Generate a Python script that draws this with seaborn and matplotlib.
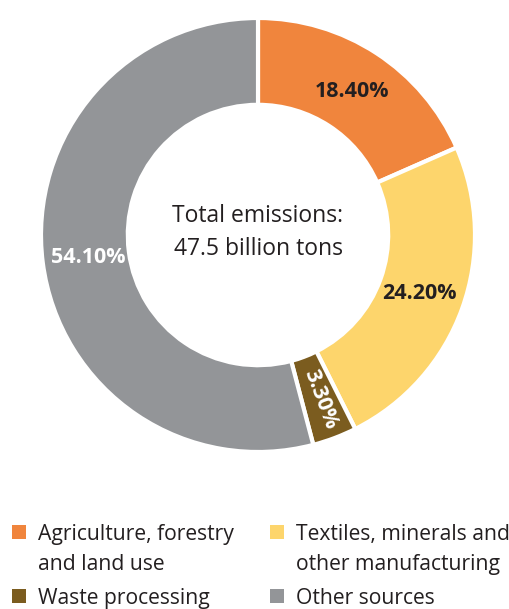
import matplotlib
matplotlib.use("Agg")
import matplotlib.pyplot as plt
import seaborn as sns
import numpy as np
from matplotlib.patches import Rectangle

sns.set_theme(style="white")
plt.rcParams['font.family'] = ['Open Sans', 'DejaVu Sans']

categories = ["Agriculture, forestry\nand land use", "Textiles, minerals and\nother manufacturing",
              "Waste processing", "Other sources"]
values = [18.40, 24.20, 3.30, 54.10]
pct_labels = ["18.40%", "24.20%", "3.30%", "54.10%"]
colors = ["#F0853D", "#FDD56C", "#7B5C1F", "#939598"]
label_colors = ["#231F20", "#231F20", "white", "white"]
center_text = "Total emissions:\n47.5 billion tons"

W, H = 509, 609
fig = plt.figure(figsize=(W / 100, H / 100), dpi=100)
cx, cy, R = 258, 235, 217
ax = fig.add_axes([(cx - R) / W, (H - cy - R) / H, 2 * R / W, 2 * R / H])

width = 0.40
wedges, _ = ax.pie(values, colors=colors, startangle=90, counterclock=False, radius=1,
                   wedgeprops=dict(width=width, edgecolor="white", linewidth=3))
ax.set_xlim(-1, 1)
ax.set_ylim(-1, 1)
ax.set_aspect("equal")
ax.axis("off")

rlab = 0.79
for w, lab, col in zip(wedges, pct_labels, label_colors):
    ang = (w.theta1 + w.theta2) / 2
    r = rlab + (0.02 if lab == "3.30%" else 0)
    x, y = r * np.cos(np.deg2rad(ang)), r * np.sin(np.deg2rad(ang))
    rot = ang if lab == "3.30%" else 0
    ax.text(x, y, lab, ha="center", va="center", rotation=rot, rotation_mode="anchor",
            color=col, fontsize=15.5, fontweight="bold")

ax.text(0, 0.01, center_text, ha="center", va="center", fontsize=16.5, color="#231F20",
        linespacing=1.5)

# legend
pos = [(12, 525), (270, 525), (12, 589), (270, 589)]
sq = 14
for (px, py), lab, col in zip(pos, categories, colors):
    fig.patches.append(Rectangle((px / W, 1 - (py + sq) / H), sq / W, sq / H,
                                 transform=fig.transFigure, facecolor=col, edgecolor="none"))
    for i, line in enumerate(lab.split("\n")):
        fig.text((px + 26) / W, 1 - (py + 15 + i * 30) / H, line, ha="left", va="baseline",
                 fontsize=15.2, color="#231F20")

fig.savefig("out.png", dpi=100)
